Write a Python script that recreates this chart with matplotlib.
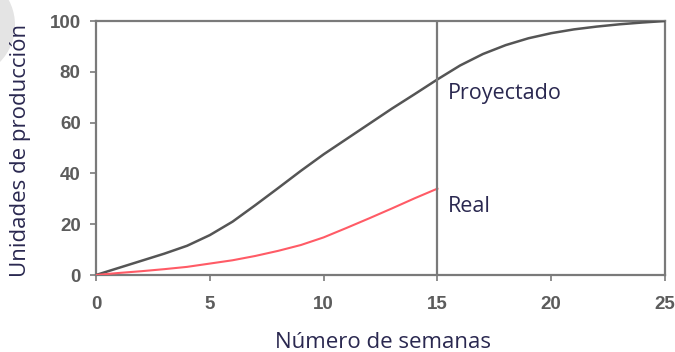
import matplotlib
matplotlib.use("Agg")
import matplotlib.pyplot as plt
from matplotlib.patches import Ellipse

# Weekly production data
weeks_proj = list(range(0, 26))
proyectado = [0, 2.8, 5.6, 8.4, 11.5, 15.7, 21, 27.5, 34.2, 41, 47.5, 53.5,
              59.5, 65.5, 71.2, 77, 82.5, 87, 90.5, 93.2, 95.2, 96.7,
              97.8, 98.7, 99.4, 100]
weeks_real = list(range(0, 16))
real = [0, 0.8, 1.5, 2.3, 3.2, 4.5, 5.8, 7.5, 9.5, 11.8, 14.8, 18.5,
        22.3, 26.2, 30.2, 34]

x_ticks = [0, 5, 10, 15, 20, 25]
y_ticks = [0, 20, 40, 60, 80, 100]
corte = 15

W, H = 675, 352
fig = plt.figure(figsize=(W / 100, H / 100), dpi=100)
ax = fig.add_axes([96 / W, 1 - 275 / H, 569 / W, 254 / H])

spine_c = "#7a7a7a"
txt_c = "#2a2850"
ax.plot(weeks_proj, proyectado, color="#555555", lw=1.8, solid_capstyle="round", zorder=3)
ax.plot(weeks_real, real, color="#ff5b66", lw=1.5, zorder=3)
ax.plot([corte, corte], [0, 100], color=spine_c, lw=1.6, zorder=4)

ax.set_xlim(0, 25)
ax.set_ylim(0, 100)
ax.set_xticks(x_ticks)
ax.set_yticks(y_ticks)
for s in ax.spines.values():
    s.set_color(spine_c)
    s.set_linewidth(1.6)
ax.tick_params(axis="both", direction="out", length=4, width=1.2, color=spine_c,
               labelsize=13.5, labelcolor="#5c5c5c")
ax.tick_params(axis="x", pad=11)
ax.tick_params(axis="y", pad=7)
for lbl in ax.get_xticklabels() + ax.get_yticklabels():
    lbl.set_fontfamily("Liberation Sans")
    lbl.set_fontweight("bold")

ax.text(15.45, 71.5, "Proyectado", fontsize=15.5, color=txt_c,
        family="Open Sans", va="center", ha="left")
ax.text(15.45, 27, "Real", fontsize=15.5, color=txt_c,
        family="Open Sans", va="center", ha="left")

fig.text(383 / W, 1 - 342 / H, "Número de semanas", fontsize=16,
         color=txt_c, family="Open Sans", ha="center", va="center")
fig.text(21 / W, 1 - 150 / H, "Unidades de producción", fontsize=16,
         color=txt_c, family="Open Sans", ha="center", va="center",
         rotation=90)

# light round marker in the top-left corner
fig.patches.append(Ellipse((-38 / W, 1 - 25 / H), 106 / W, 106 / H,
                           transform=fig.transFigure, facecolor="#e4e4e4",
                           edgecolor="none", zorder=0))

fig.savefig("out.png", dpi=100)
